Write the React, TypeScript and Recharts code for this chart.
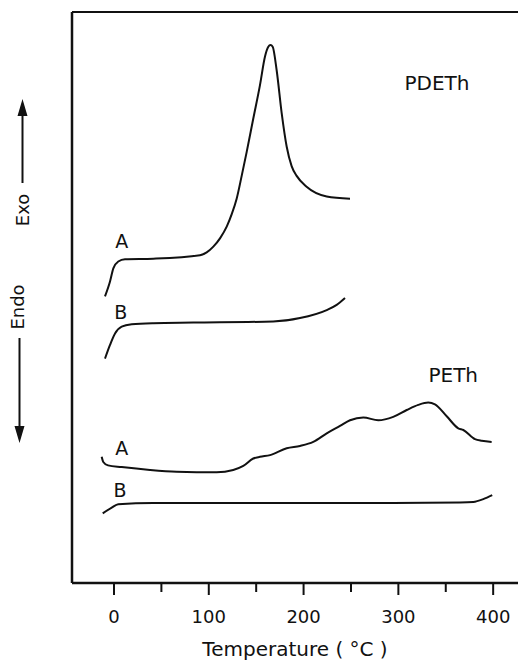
import { LineChart, Line, XAxis, YAxis, ReferenceLine, ReferenceDot } from "recharts";

const FONT = "'DejaVu Sans', sans-serif";
const INK = "#111";

// temperature axis (°C)
const tempDomain = [-44.3, 426.2];
const tempTicks = [0, 50, 100, 150, 200, 250, 300, 350, 400];
// heat flow is in arbitrary units, exo up
const flowDomain = [0, 100];

// PDETh, run A
const pdethATemp = [-9.5, -4.2, -0.7, 4.5, 11.6, 41.5, 90.7, 97.8, 104.8, 112, 118.9, 124.2, 129.4, 134.7, 140, 146.9, 154, 159.3, 162.8, 165.1, 167.4, 171.6, 176.9, 182.2, 187.4, 192.7, 203.2, 224.4, 249];
const pdethAFlow = [50.2, 52.8, 55.1, 56.3, 56.7, 56.8, 57.4, 57.9, 58.9, 60.4, 62.4, 64.6, 67.3, 71.3, 75.5, 81.3, 87.2, 92.2, 93.9, 94.2, 93.9, 89.8, 82.3, 76.4, 73.0, 71.3, 69.4, 67.7, 67.3];

// PDETh, run B
const pdethBTemp = [-9.5, -4.2, 1.1, 8.1, 18.7, 41.5, 83.6, 168, 196.2, 224.4, 234.9, 243.7];
const pdethBFlow = [39.3, 41.7, 43.7, 44.9, 45.3, 45.5, 45.6, 45.8, 46.4, 47.8, 48.7, 49.9];

// PETh, run A
const pethATemp = [-13, -11.3, -6.3, 8.1, 38, 66.1, 108.3, 125.8, 136.4, 146.9, 154, 164.6, 182.2, 196.2, 210.2, 224.4, 238.4, 249, 263, 278.8, 294.6, 308.8, 321, 331.5, 338.6, 351, 363.2, 368.5, 380.8, 387.9, 398.4];
const pethAFlow = [22.1, 21.2, 20.6, 20.3, 19.8, 19.5, 19.4, 19.8, 20.5, 21.8, 22.1, 22.4, 23.6, 24.0, 24.7, 26.2, 27.5, 28.5, 29.0, 28.5, 29.1, 30.3, 31.2, 31.6, 31.3, 29.2, 27.1, 26.8, 25.2, 24.9, 24.7];

// PETh, run B
const pethBTemp = [-11.9, -2.4, 4.5, 41.5, 154, 294.6, 365, 379, 389.6, 399];
const pethBFlow = [12.2, 13.2, 13.8, 14.0, 14.0, 14.0, 14.1, 14.2, 14.7, 15.4];

// curve captions: [text, temperature, flow, font size]
const captions: [string, number, number, number][] = [
  ["PDETh", 340.7, 87.6, 20],
  ["A", 8.1, 59.8, 19],
  ["B", 7.1, 47.5, 19],
  ["PETh", 357.9, 36.4, 20],
  ["A", 8.1, 23.6, 19],
  ["B", 6.3, 16.3, 19],
];

const toPoints = (t: number[], q: number[]) => t.map((v, i) => ({ t: v, q: q[i] }));

const curves = [
  toPoints(pdethATemp, pdethAFlow),
  toPoints(pdethBTemp, pdethBFlow),
  toPoints(pethATemp, pethAFlow),
  toPoints(pethBTemp, pethBFlow),
];

function TempTick({ x, y, payload }: any) {
  const major = payload.value % 100 === 0;
  return (
    <g>
      <line x1={x} x2={x} y1={y} y2={y + (major ? 12 : 9)} stroke={INK} strokeWidth={2} />
      {major && (
        <text x={x} y={y + 40} textAnchor="middle" fontSize={18} fontFamily={FONT} fill={INK}>
          {payload.value}
        </text>
      )}
    </g>
  );
}

// Exo / Endo direction arrows beside the plot
function DirectionNotes() {
  return (
    <g fill={INK}>
      <line x1={22.5} x2={22.5} y1={112} y2={183} stroke={INK} strokeWidth={2} />
      <polygon points="22.5,99 17.5,116 27.5,116" />
      <text transform="translate(23,210) rotate(-90)" textAnchor="middle" dy="0.36em" fontSize={18} fontFamily={FONT}>
        Exo
      </text>
      <text transform="translate(18,307) rotate(-90)" textAnchor="middle" dy="0.36em" fontSize={18} fontFamily={FONT}>
        Endo
      </text>
      <line x1={19.5} x2={19.5} y1={338} y2={430} stroke={INK} strokeWidth={2} />
      <polygon points="19.5,443 14.5,426 24.5,426" />
    </g>
  );
}

export default function App() {
  return (
    <div style={{ position: "absolute", left: 0, top: 0, width: 518, height: 660, background: "#fff" }}>
      <LineChart width={518} height={660} margin={{ top: 12, right: 0, bottom: 0, left: 0 }}>
        <XAxis
          dataKey="t"
          type="number"
          domain={tempDomain}
          ticks={tempTicks}
          allowDataOverflow
          height={77}
          tickSize={0}
          tickMargin={0}
          tick={<TempTick />}
          axisLine={{ stroke: INK, strokeWidth: 2.5 }}
          label={{
            value: "Temperature ( °C )",
            position: "insideBottom",
            offset: 4,
            fontSize: 20,
            fontFamily: FONT,
            fill: INK,
          }}
        />
        <YAxis
          type="number"
          domain={flowDomain}
          width={72}
          tick={false}
          tickLine={false}
          axisLine={{ stroke: INK, strokeWidth: 2.5 }}
          label={() => <DirectionNotes />}
        />
        <ReferenceLine y={flowDomain[1]} stroke={INK} strokeWidth={2} ifOverflow="visible" />
        {curves.map((data, i) => (
          <Line
            key={i}
            data={data}
            dataKey="q"
            type="monotone"
            stroke={INK}
            strokeWidth={2}
            dot={false}
            activeDot={false}
            isAnimationActive={false}
          />
        ))}
        {captions.map(([text, t, q, size], i) => (
          <ReferenceDot
            key={i}
            x={t}
            y={q}
            r={0}
            fill="none"
            stroke="none"
            label={{ value: text, position: "center", fontSize: size, fontFamily: FONT, fill: INK }}
          />
        ))}
      </LineChart>
    </div>
  );
}
